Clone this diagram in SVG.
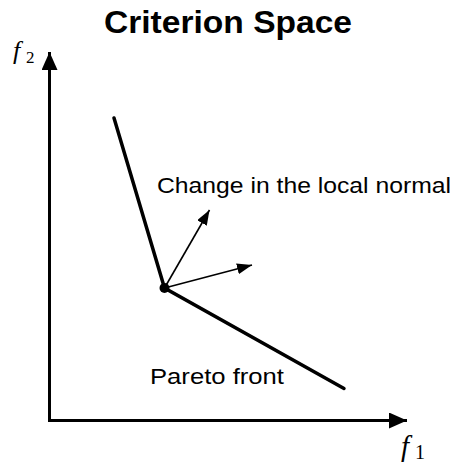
<svg xmlns="http://www.w3.org/2000/svg" width="458" height="463" viewBox="0 0 458 463">
  <style>
    .sans { font-family: "Liberation Sans", Arial, sans-serif; fill: #000; }
    .var { font-family: "Liberation Serif", "Times New Roman", serif; font-style: italic; fill: #000; }
    .sub { font-family: "Liberation Serif", "Times New Roman", serif; font-style: normal; fill: #000; }
    .axis { stroke: #000; stroke-width: 3; fill: none; }
    .front { stroke: #000; stroke-width: 3.5; fill: none; stroke-linecap: round; }
    .normal { stroke: #000; stroke-width: 1.6; fill: none; }
  </style>
  <defs>
    <marker id="axisHead" viewBox="0 0 18 16" refX="18" refY="8" markerWidth="18" markerHeight="16" markerUnits="userSpaceOnUse" orient="auto">
      <path d="M0,0 L18,8 L0,16 Z" fill="#000"/>
    </marker>
    <marker id="normHead" viewBox="0 0 15 11" refX="15" refY="5.5" markerWidth="15" markerHeight="11" markerUnits="userSpaceOnUse" orient="auto">
      <path d="M0,0 L15,5.5 L0,11 Z" fill="#000"/>
    </marker>
  </defs>

  <g id="title">
    <text class="sans" x="228" y="33" font-size="32" font-weight="bold" text-anchor="middle" textLength="248" lengthAdjust="spacingAndGlyphs">Criterion Space</text>
  </g>

  <g id="axes">
    <line class="axis" x1="49.5" y1="421" x2="49.5" y2="52" marker-end="url(#axisHead)"/>
    <line class="axis" x1="48" y1="420.5" x2="407" y2="420.5" marker-end="url(#axisHead)"/>
    <text class="var" x="13" y="58.5" font-size="26">f</text>
    <text class="sub" x="26" y="63.3" font-size="17">2</text>
    <text class="var" x="401" y="456" font-size="29">f</text>
    <text class="sub" x="415" y="459" font-size="20">1</text>
  </g>

  <g id="pareto-front">
    <polyline class="front" points="114,118 164.5,288 344,388.5"/>
    <circle cx="164.5" cy="288" r="5" fill="#000"/>
    <text class="sans" x="150" y="383.5" font-size="22.5" textLength="134" lengthAdjust="spacingAndGlyphs">Pareto front</text>
  </g>

  <g id="connectors">
    <line class="normal" x1="164.5" y1="288" x2="209.5" y2="210" marker-end="url(#normHead)"/>
    <line class="normal" x1="164.5" y1="288" x2="252" y2="265" marker-end="url(#normHead)"/>
  </g>

  <g id="normal-label">
    <text class="sans" x="157" y="192.5" font-size="22.5" textLength="294" lengthAdjust="spacingAndGlyphs">Change in the local normal</text>
  </g>
</svg>
